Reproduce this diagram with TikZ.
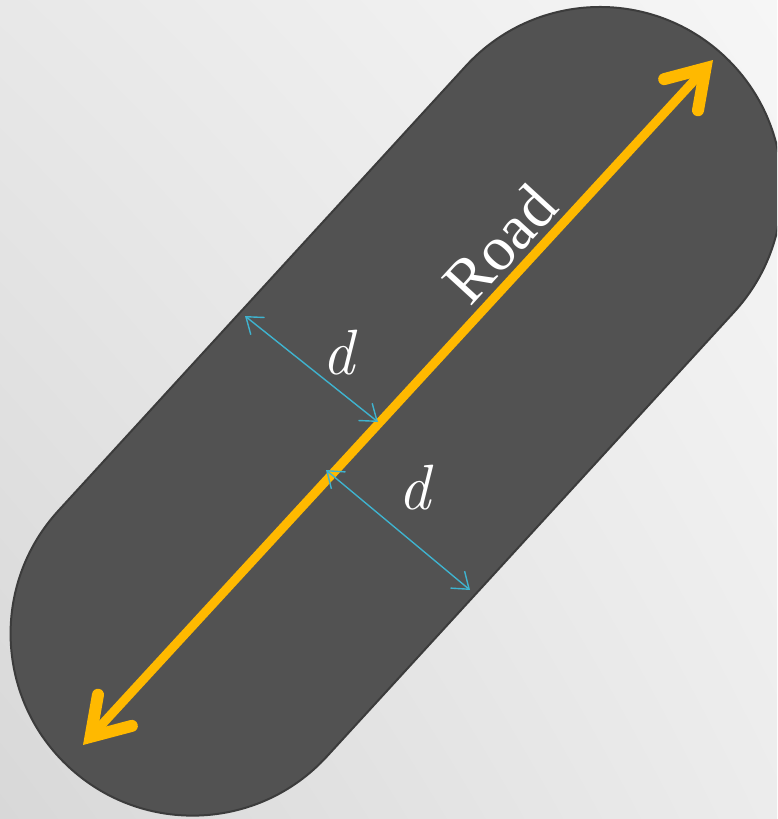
\documentclass[tikz,border=0pt]{standalone}
\usepackage{fontspec}
\setmainfont{Liberation Serif}
\newfontfamily\dfont{Latin Modern Roman}
\usetikzlibrary{arrows.meta,shadings}
\definecolor{roadgray}{HTML}{525252}
\definecolor{roadedge}{HTML}{3C3C3C}
\definecolor{roadyellow}{HTML}{FFB900}
\definecolor{dimcyan}{HTML}{3FB3CF}
\definecolor{bgUL}{HTML}{E8E8E8}
\definecolor{bgUR}{HTML}{F6F6F6}
\definecolor{bgLL}{HTML}{D8D8D8}
\definecolor{bgLR}{HTML}{ECECEC}
\tikzset{
  road/.style={draw=roadedge, fill=roadgray, line width=2pt, inner sep=0pt,
    minimum width=967pt, minimum height=364pt, rounded corners=181.9pt, rotate=47.5},
  yhead/.tip={Straight Barb[length=36pt, width=46pt, line width=12pt, line cap=round]},
  chead/.tip={Straight Barb[length=15pt, width=22pt]},
  centerline/.style={draw=roadyellow, line width=9pt, {yhead}-{yhead}},
  dimline/.style={draw=dimcyan, line width=1.4pt, {chead}-{chead}},
  dlabel/.style={text=white, font=\dfont\itshape\fontsize{64}{64}\selectfont, inner sep=0pt},
  roadlabel/.style={text=white, font=\fontsize{63}{63}\selectfont, inner sep=0pt, rotate=47.5}
}
\begin{document}
\begin{tikzpicture}[x=1pt, y=-1pt]
\useasboundingbox (0,0) rectangle (777,819);
\shade[upper left=bgUL, upper right=bgUR, lower left=bgLL, lower right=bgLR] (0,0) rectangle (777,819);
\begin{scope}
\clip (0,0) rectangle (777,819);
\node[road] (shape) at (396.3,411.3) {};
\end{scope}
\coordinate (ystart) at (83,745);
\coordinate (yend) at (713,60);
\draw[centerline] (ystart) -- (yend);
\coordinate (d1a) at (245,316);
\coordinate (d1b) at (378,422);
\coordinate (d2a) at (326,470);
\coordinate (d2b) at (470,590);
\draw[dimline] (d1a) -- (d1b);
\draw[dimline] (d2a) -- (d2b);
\node[dlabel] (dupper) at (338,353) {d};
\node[dlabel] (dlower) at (414,488) {d};
\node[roadlabel] (roadtxt) at (500,244) {Road};
\end{tikzpicture}
\end{document}
